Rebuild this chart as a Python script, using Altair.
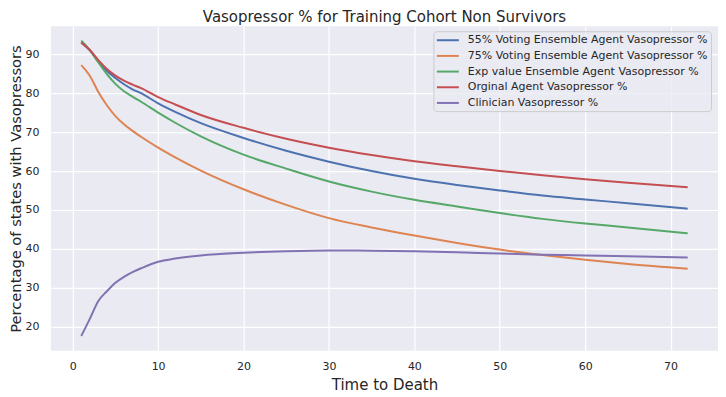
import altair as alt
import pandas as pd

x_vals = [1, 2, 3, 4, 5, 6, 7, 8, 10, 12, 15, 20, 25, 30, 35, 40, 45, 50, 55, 60, 65, 72]

blue_55 = [93.0, 91.0, 88.1, 85.7, 83.9, 82.3, 81.0, 80.0, 77.4, 75.2, 72.3, 68.5, 65.2, 62.4, 60.0, 58.0, 56.4, 55.0, 53.7, 52.7, 51.7, 50.3]
orange_75 = [87.2, 84.5, 80.3, 76.9, 74.1, 72.0, 70.3, 68.8, 66.0, 63.5, 60.1, 55.3, 51.3, 47.9, 45.5, 43.4, 41.5, 39.8, 38.4, 37.2, 36.1, 34.9]
green_exp = [93.5, 91.1, 87.9, 84.9, 82.4, 80.5, 79.1, 77.8, 75.0, 72.4, 68.9, 64.2, 60.6, 57.3, 54.7, 52.6, 50.9, 49.2, 47.7, 46.5, 45.5, 44.0]
red_orig = [93.0, 91.1, 88.5, 86.2, 84.5, 83.2, 82.2, 81.3, 79.0, 77.1, 74.4, 71.1, 68.3, 66.0, 64.1, 62.5, 61.2, 60.0, 58.9, 57.9, 57.0, 55.8]
purple_clin = [17.6, 22.0, 26.6, 29.1, 31.3, 32.8, 34.0, 35.0, 36.7, 37.5, 38.3, 39.0, 39.4, 39.6, 39.5, 39.4, 39.1, 38.8, 38.5, 38.3, 38.1, 37.8]

series_names = [
    "55% Voting Ensemble Agent Vasopressor %",
    "75% Voting Ensemble Agent Vasopressor %",
    "Exp value Ensemble Agent Vasopressor %",
    "Orginal Agent Vasopressor %",
    "Clinician Vasopressor %",
]
series_values = [blue_55, orange_75, green_exp, red_orig, purple_clin]
colors = ["#4C72B0", "#DD8452", "#55A868", "#C44E52", "#8172B3"]

rows = []
for name, vals in zip(series_names, series_values):
    for xv, yv in zip(x_vals, vals):
        rows.append({"t": xv, "pct": yv, "series": name})
df = pd.DataFrame(rows)

FONT = "DejaVu Sans"
TXT = "#262626"

chart = (
    alt.Chart(df)
    .mark_line(strokeWidth=2, interpolate="monotone")
    .encode(
        x=alt.X(
            "t:Q",
            scale=alt.Scale(domain=[-2.55, 75.55], nice=False, zero=False),
            axis=alt.Axis(
                title="Time to Death",
                values=[0, 10, 20, 30, 40, 50, 60, 70],
                format="d",
            ),
        ),
        y=alt.Y(
            "pct:Q",
            scale=alt.Scale(domain=[13.8, 97.2], nice=False, zero=False),
            axis=alt.Axis(
                title="Percentage of states with Vasopressors",
                values=[20, 30, 40, 50, 60, 70, 80, 90],
                format="d",
                titleFontSize=14.7,
            ),
        ),
        color=alt.Color(
            "series:N",
            scale=alt.Scale(domain=series_names, range=colors),
            sort=series_names,
            legend=alt.Legend(
                title=None,
                orient="none",
                legendX=383,
                legendY=5,
                symbolType="M-1,0H3",
                symbolSize=121,
                symbolStrokeWidth=2,
                labelFont=FONT,
                labelFontSize=11,
                labelColor=TXT,
                labelOffset=19,
                labelLimit=400,
                fillColor="rgba(234,234,242,0.8)",
                strokeColor="#cccccc",
                cornerRadius=3,
                padding=2.5,
                rowPadding=3.7,
            ),
        ),
    )
    .properties(
        width=668,
        height=325,
        title=alt.TitleParams(
            "Vasopressor % for Training Cohort Non Survivors",
            font=FONT,
            fontSize=15,
            fontWeight="normal",
            color=TXT,
            anchor="middle",
            offset=1,
        ),
        padding={"left": 43, "top": 18, "right": 0, "bottom": 42},
        autosize=alt.AutoSizeParams(type="none"),
    )
    .configure_view(fill="#EAEAF2", stroke=None)
    .configure_axis(
        domain=False,
        ticks=False,
        tickSize=0,
        grid=True,
        gridColor="white",
        gridWidth=1.2,
        labelFont=FONT,
        labelFontSize=11,
        labelColor=TXT,
        titleFont=FONT,
        titleFontSize=15,
        titleFontWeight="normal",
        titleColor=TXT,
    )
    .configure_axisX(labelPadding=10, titlePadding=6)
    .configure_axisY(labelPadding=12, titlePadding=1)
)

chart.save("out.html", embed_options={"renderer": "svg", "actions": False})
